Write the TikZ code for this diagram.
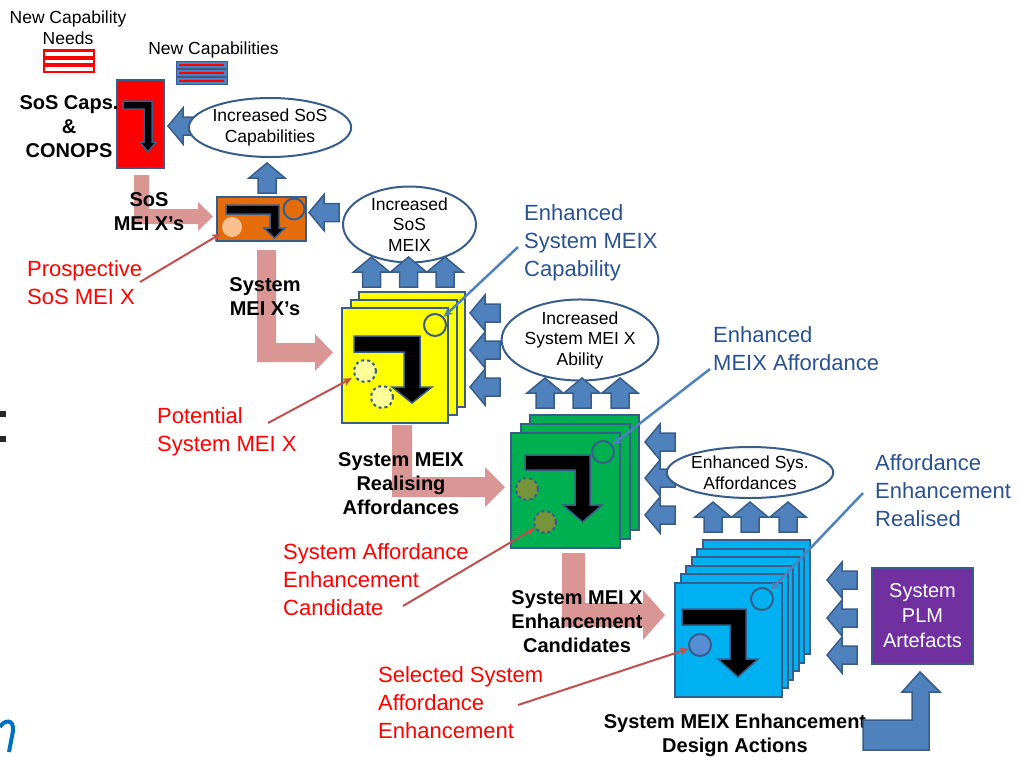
\documentclass[tikz,border=0pt]{standalone}
\usepackage{fontspec}
\setmainfont{Liberation Sans}
\usetikzlibrary{shapes.geometric,arrows.meta}

\definecolor{edgeblue}{HTML}{385D8A}
\definecolor{flowblue}{HTML}{4F81BD}
\definecolor{pinkflow}{HTML}{D99694}
\definecolor{leadred}{HTML}{C0504D}
\definecolor{labelblue}{HTML}{2A5190}
\definecolor{sosred}{HTML}{FF0000}
\definecolor{sosorange}{HTML}{E46C0A}
\definecolor{peach}{HTML}{FAC090}
\definecolor{sysyellow}{HTML}{FFFF00}
\definecolor{paleyellow}{HTML}{FFFF99}
\definecolor{sysgreen}{HTML}{00B050}
\definecolor{olive}{HTML}{77933C}
\definecolor{syscyan}{HTML}{00B0F0}
\definecolor{midblue}{HTML}{558ED5}
\definecolor{plmpurple}{HTML}{7030A0}
\definecolor{slideblue}{HTML}{0070C0}

% block arrows, tip given
\newcommand\leftblock[2]{\draw[blockarrow] (#1,#2) -- ++(15,-18) -- ++(0,9) -- ++(15,0) -- ++(0,18) -- ++(-15,0) -- ++(0,9) -- cycle;}
\newcommand\upblock[2]{\draw[blockarrow] (#1,#2) -- ++(18,15) -- ++(-9,0) -- ++(0,15) -- ++(-18,0) -- ++(0,-15) -- ++(-9,0) -- cycle;}
% bent black arrow: x0, y0, width, thickness, height, head length, head overhang
\newcommand\bentblack[7]{\draw[bentshape] (#1,#2) -- ++(#3,0) -- ++(0,{#5-#6}) -- ++(#7,0) -- ++({-#4/2-#7},#6) -- ++({-#4/2-#7},{-#6}) -- ++(#7,0) -- ++(0,{-(#5-#6-#4)}) -- ++({-(#3-#4)},0) -- cycle;}

\begin{document}
\begin{tikzpicture}[x=1pt,y=-1pt,
  blockarrow/.style={fill=flowblue,draw=edgeblue,line width=1.5pt,line join=miter},
  bentshape/.style={fill=black,draw=edgeblue,line width=1.5pt},
  pinkarrow/.style={fill=pinkflow},
  boxedge/.style={draw=edgeblue,line width=2pt},
  oval/.style={ellipse,draw=edgeblue,line width=2pt,fill=white,inner sep=0pt,align=center,
    font=\fontsize{17.5}{20.5}\selectfont},
  bold/.style={align=center,inner sep=0pt,font=\fontsize{20}{24}\selectfont\bfseries},
  small/.style={align=center,inner sep=0pt,font=\fontsize{17.5}{21}\selectfont},
  redlabel/.style={anchor=west,align=left,inner sep=0pt,text=red,font=\fontsize{22}{28}\selectfont},
  bluelabel/.style={anchor=west,align=left,inner sep=0pt,text=labelblue,font=\fontsize{22}{28}\selectfont},
  redlead/.style={draw=leadred,line width=2pt,-{Stealth[length=9pt,width=8pt]}},
  bluelead/.style={draw=flowblue,line width=2.5pt,-{Stealth[length=9pt,width=8pt]}},
  spot/.style={circle,inner sep=0pt,minimum size=#1},
]
\useasboundingbox (0,0) rectangle (1019,764);

% slide remnants at the left edge
\fill[black!85] (0,411) rectangle (6,417);
\fill[black!85] (0,436) rectangle (6,442);
\draw[slideblue,line width=4pt] (0,727) .. controls (4,720) and (14,718) .. (13,731) -- (9,752);

% pink flow arrows between stages
\fill[pinkarrow] (134,175) -- (149,175) -- (149,209) -- (198,209) -- (198,202) -- (213,216.5) -- (198,231) -- (198,224) -- (134,224) -- cycle;
\fill[pinkarrow] (257,250) -- (276,250) -- (276,343) -- (315,343) -- (315,334) -- (333,352.5) -- (315,371) -- (315,362) -- (257,362) -- cycle;
\fill[pinkarrow] (392,425) -- (412,425) -- (412,477) -- (485,477) -- (485,467) -- (505,487) -- (485,507) -- (485,497) -- (392,497) -- cycle;
\fill[pinkarrow] (562,553) -- (585,553) -- (585,603) -- (643,603) -- (643,590) -- (665,615) -- (643,640) -- (643,627) -- (562,627) -- cycle;

% capability needs icon
\node[fill=sosred,minimum width=52pt,minimum height=24pt,inner sep=0pt] (needs) at (69,61) {};
\foreach \yy in {52,59.5,67} \fill[white] (45,\yy) rectangle (93,\yy+3.5);
\node[small] (needslbl) at (68,27.5) {New Capability\\Needs};

% new capabilities icon
\foreach \yy in {61,69,77} {
  \draw[fill=flowblue,draw=edgeblue,line width=1pt] (176,\yy) rectangle (227,\yy+7.5);
  \draw[sosred,line width=1.5pt] (179,\yy+3.75) -- (224,\yy+3.75);
}
\node[small] (newcaps) at (213.5,50) {New Capabilities};

% SoS capabilities box
\node[boxedge,fill=sosred,minimum width=47pt,minimum height=88pt,inner sep=0pt] (sosbox) at (140.5,124) {};
\bentblack{123}{101}{29}{8}{51}{10}{4}
\node[bold] (soslbl) at (69,127) {SoS Caps.\\\&\\CONOPS};

% SoS MEI X box
\node[boxedge,fill=sosorange,minimum width=89pt,minimum height=44pt,inner sep=0pt] (meibox) at (261.5,219) {};
\bentblack{226}{205}{53}{9}{33}{10}{6}
\node[spot=21pt,draw=edgeblue,line width=2pt,fill=sosorange] (sosring) at (294,209) {};
\node[spot=20pt,fill=peach] (peachspot) at (232,227) {};
\node[bold] (sosmei) at (149,212) {SoS\\MEI X’s};

% feedback arrows around the top stage
\leftblock{168}{126}
\upblock{267}{163}
\leftblock{309}{212.5}
\node[oval,minimum width=138pt,minimum height=59pt] (incsos) at (270,127.5) {Increased SoS\\Capabilities};
\node[oval,minimum width=133pt,minimum height=65pt] (incmeix) at (409.5,224.5) {Increased\\SoS\\MEIX};

% system MEI X stack (yellow)
\draw[boxedge,fill=sysyellow] (359,292) rectangle ++(106,115);
\draw[boxedge,fill=sysyellow] (350.5,300) rectangle ++(106,115);
\draw[boxedge,fill=sysyellow] (342,308) rectangle ++(106,115);
\bentblack{354}{336}{66}{16}{67}{16}{12}
\node[spot=22pt,draw=edgeblue,line width=2pt,fill=sysyellow] (ring1) at (435,325) {};
\node[spot=22pt,draw=edgeblue,line width=2pt,dashed,fill=paleyellow] (pot1) at (365,371) {};
\node[spot=22pt,draw=edgeblue,line width=2pt,dashed,fill=paleyellow] (pot2) at (382,397) {};
\node[bold] (sysmei) at (265,296.5) {System\\MEI X’s};

\upblock{371.5}{257}\upblock{408.5}{257}\upblock{445}{257}
\leftblock{470}{313}\leftblock{470}{350}\leftblock{470}{387}
\node[oval,minimum width=146pt,minimum height=66pt] (incsys) at (580,340) {Increased\\System MEI X\\Ability};

% affordance stack (green)
\draw[boxedge,fill=sysgreen] (530,415) rectangle ++(109,115);
\draw[boxedge,fill=sysgreen] (520.5,424) rectangle ++(109,115);
\draw[boxedge,fill=sysgreen] (511,433) rectangle ++(109,115);
\bentblack{525}{455}{65}{15}{67}{17}{12}
\node[spot=22pt,draw=edgeblue,line width=2pt,fill=sysgreen] (ring2) at (603,452) {};
\node[spot=22pt,draw=edgeblue,line width=2pt,dashed,fill=olive] (cand1) at (527,489) {};
\node[spot=22pt,draw=edgeblue,line width=2pt,dashed,fill=olive] (cand2) at (545,522) {};
\node[bold] (realising) at (401,483.5) {System MEIX\\Realising\\Affordances};

\upblock{545}{378}\upblock{582}{378}\upblock{620}{378}
\leftblock{645}{442}\leftblock{645}{478}\leftblock{645}{515}
\node[oval,minimum width=146pt,minimum height=51pt] (enhsys) at (750,472.5) {Enhanced Sys.\\Affordances};

% enhancement stack (cyan)
\foreach \k in {5,4,3,2,1,0}
  \draw[boxedge,fill=syscyan] ({675+5.6*\k},{583-8.6*\k}) rectangle ++(107,114);
\bentblack{682}{609}{64}{16}{68}{18}{12}
\node[spot=22pt,draw=edgeblue,line width=2pt,fill=syscyan] (ring3) at (762,599) {};
\node[spot=22pt,draw=edgeblue,line width=2pt,fill=midblue] (sel) at (700,645) {};
\node[bold] (candidates) at (577,621.5) {System MEI X\\Enhancement\\Candidates};
\node[bold] (design) at (735,735.5) {System MEIX Enhancement\\Design Actions};

\upblock{713}{502}\upblock{750}{502}\upblock{788}{502}
\leftblock{827}{580}\leftblock{827}{618}\leftblock{827}{655}

% PLM artefacts and feed back
\node[boxedge,fill=plmpurple,minimum width=101pt,minimum height=96pt,inner sep=0pt,align=center,
  text=white,font=\fontsize{20}{25}\selectfont] (plm) at (922.5,616) {System\\PLM\\Artefacts};
\draw[blockarrow] (863,720) -- (912,720) -- (912,692) -- (902,692) -- (920,672) -- (940,692) -- (929,692) -- (929,750) -- (863,750) -- cycle;

% callout labels
\node[redlabel] (prosp) at (27,283) {Prospective\\SoS MEI X};
\node[redlabel] (potential) at (157,431.5) {Potential\\System MEI X};
\node[redlabel] (sae) at (283,579.5) {System Affordance\\Enhancement\\Candidate};
\node[redlabel] (selected) at (378,703) {Selected System\\Affordance\\Enhancement};
\node[bluelabel] (capab) at (524,243) {Enhanced\\System MEIX\\Capability};
\node[bluelabel] (afford) at (713,349) {Enhanced\\MEIX Affordance};
\node[bluelabel] (realised) at (875,490.5) {Affordance\\Enhancement\\Realised};

% leader lines
\coordinate (prospend) at (140,282);
\coordinate (potend) at (268,423);
\coordinate (saeend) at (403,606);
\coordinate (selend) at (518,705);
\coordinate (capend) at (518,247);
\coordinate (affend) at (710,369);
\coordinate (realend) at (863,493);
\draw[redlead,shorten >=3pt] (prospend) -- (peachspot);
\draw[redlead,shorten >=3pt] (potend) -- (pot1);
\draw[redlead] (saeend) -- (cand2);
\draw[redlead] (selend) -- (sel);
\draw[bluelead] (capend) -- (ring1);
\draw[bluelead] (affend) -- (ring2);
\draw[bluelead] (realend) -- (ring3);
\end{tikzpicture}
\end{document}
